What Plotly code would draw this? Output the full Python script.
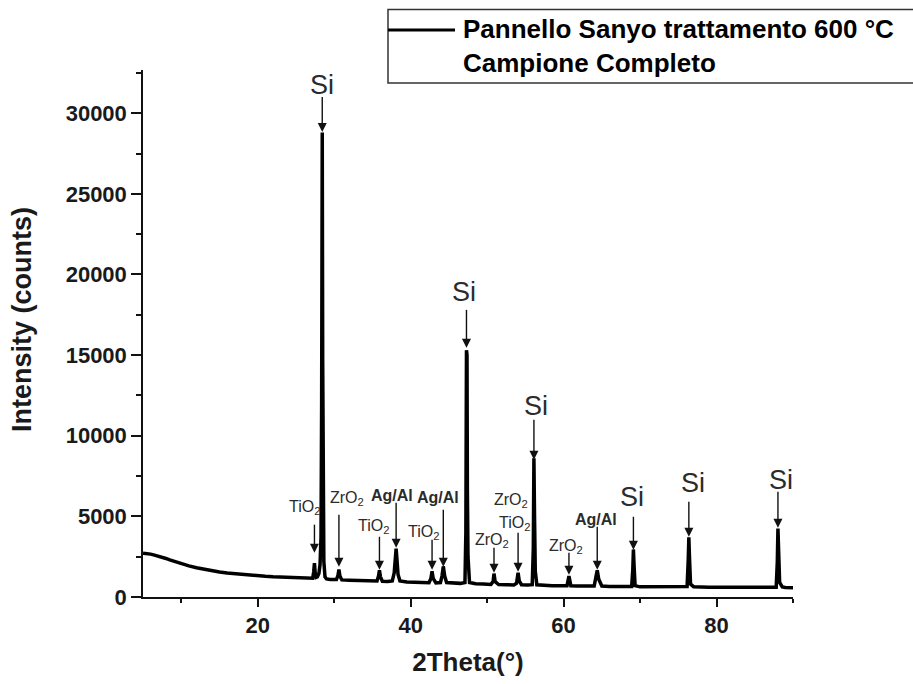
import plotly.graph_objects as go

# ---------------- data ----------------
two_theta = [
    5.0, 5.5, 6.0, 6.5, 7.0, 7.5, 8.0, 8.5, 9.0, 9.5,
    10.0, 11.0, 12.0, 13.0, 14.0, 15.0, 16.0, 17.0, 18.0, 19.0,
    20.0, 21.0, 22.0, 23.0, 24.0, 25.0, 26.0, 26.6, 27.0,
    27.2, 27.32, 27.42, 27.52, 27.65, 27.8, 28.0, 28.15, 28.28, 28.36,
    28.44, 28.5, 28.56, 28.65, 28.8, 29.0, 29.5, 30.0, 30.3, 30.5,
    30.62, 30.75, 31.0, 32.0, 33.0, 34.0, 35.0, 35.6, 35.8, 35.92,
    36.05, 36.3, 37.0, 37.6, 37.85, 38.0, 38.1, 38.2, 38.35, 38.6,
    39.5, 40.5, 41.5, 42.4, 42.65, 42.8, 42.95, 43.3, 43.9, 44.1,
    44.27, 44.45, 44.7, 45.5, 46.5, 47.1, 47.22, 47.3, 47.37, 47.42,
    47.5, 47.7, 48.5, 49.5, 50.5, 50.78, 50.9, 51.05, 51.5, 52.5,
    53.5, 53.85, 54.05, 54.2, 54.5, 55.3, 55.9, 56.04, 56.12, 56.2,
    56.3, 56.5, 57.5, 58.5, 59.5, 60.45, 60.7, 60.95, 61.8, 63.0,
    64.0, 64.25, 64.4, 64.6, 65.0, 66.0, 67.0, 68.0, 68.9, 69.05,
    69.13, 69.22, 69.35, 70.0, 71.0, 72.0, 73.0, 74.0, 75.0, 76.15,
    76.3, 76.38, 76.46, 76.6, 77.0, 78.0, 79.0, 80.0, 81.0, 82.0,
    83.0, 84.0, 85.0, 86.0, 87.0, 87.8, 87.95, 88.03, 88.12, 88.25,
    88.6, 89.0, 90.0,
]
intensity = [
    2720, 2700, 2660, 2600, 2540, 2470, 2390, 2300, 2220, 2140,
    2070, 1930, 1810, 1710, 1620, 1550, 1490, 1440, 1390, 1350,
    1310, 1280, 1250, 1225, 1200, 1180, 1160, 1150, 1140,
    1170, 1550, 2100, 1500, 1220, 1250, 1450, 2000, 3700, 12000,
    28800, 14500, 6000, 2200, 1250, 1120, 1090, 1070, 1080, 1350,
    1700, 1300, 1060, 1040, 1020, 1000, 985, 990, 1300, 1650,
    1250, 980, 960, 1000, 1500, 2300, 3000, 2400, 1400, 1000,
    930, 910, 895, 890, 1150, 1600, 1150, 880, 900, 1300,
    1900, 1300, 900, 860, 845, 900, 4000, 15300, 15000, 6600,
    2500, 900, 820, 800, 780, 950, 1450, 950, 770, 760,
    750, 850, 1500, 1000, 760, 740, 760, 3000, 8600, 5000,
    1600, 760, 710, 700, 690, 700, 1300, 700, 680, 670,
    680, 1300, 1650, 1100, 680, 650, 640, 635, 650, 1700,
    2950, 1900, 700, 630, 625, 620, 615, 610, 608, 650,
    2300, 3700, 2500, 800, 640, 605, 600, 598, 595, 593,
    590, 588, 587, 585, 583, 600, 2200, 4250, 2900, 900,
    620, 590, 580,
]

# peak markers: label text, 2theta, arrow tip intensity
peak_labels = ["Si", "Si", "Si", "Si", "Si", "Si",
               "TiO<sub>2</sub>", "ZrO<sub>2</sub>", "TiO<sub>2</sub>", "<b>Ag/Al</b>",
               "TiO<sub>2</sub>", "<b>Ag/Al</b>", "ZrO<sub>2</sub>", "TiO<sub>2</sub>",
               "ZrO<sub>2</sub>", "<b>Ag/Al</b>"]
peak_pos = [28.44, 47.3, 56.12, 69.13, 76.38, 88.03,
            27.42, 30.62, 35.92, 38.1, 42.8, 44.27, 50.9, 54.05, 60.7, 64.4]
peak_tip = [28840, 15450, 8510, 2930, 3740, 4300,
            2750, 1880, 1690, 3055, 1690, 1880, 1510, 1570, 1380, 1690]
# extra label sharing the arrow at 54.05
extra_label = "ZrO<sub>2</sub>"
extra_label_pos = 54.05

x_ticks = [20, 40, 60, 80]
y_ticks = [0, 5000, 10000, 15000, 20000, 25000, 30000]
y_max = 32680

# ---------------- layout / style (pixels) ----------------
W, H = 913, 684
PL, PR, PT, PB = 143, 793, 70, 597
FONT = "Liberation Sans, Arial, sans-serif"
INK = "#111111"
LABEL_INK = "#2b2b2b"

# arrow length (px) and label offset (dx, up) relative to arrow tail
arrow_len = [35, 38, 40, 33, 35, 36,
             28, 52, 33, 45, 30, 57, 25, 39, 22, 43]
label_dx = [0, -2, 2, -1, 4, 3,
            -10, 8, -6, -4, -9, -5, -2, -4, -3, -1]
label_up = [12, 18, 14, 20, 19, 12,
            17, 16, 10, 7, 7, 12, 7, 9, 6, 7]
extra_dx, extra_up = -7, 32

counts_per_px = y_max / (PB - PT)


def px_x(px):
    return (px - PL) / (PR - PL)


def px_y(py):
    return (PB - py) / (PB - PT)


fig = go.Figure()
fig.add_trace(go.Scatter(
    x=two_theta, y=intensity, mode="lines",
    name="Pannello Sanyo trattamento 600 °C Campione Completo",
    line=dict(color="black", width=3.5),
    showlegend=False, hoverinfo="x+y",
))

# arrow shafts (from tail down to tip) and arrow heads
shaft_x, shaft_y = [], []
for xv, tip, ln in zip(peak_pos, peak_tip, arrow_len):
    shaft_x += [xv, xv, None]
    shaft_y += [tip + 5 * counts_per_px, tip + ln * counts_per_px, None]
fig.add_trace(go.Scatter(
    x=shaft_x, y=shaft_y, mode="lines", line=dict(color=INK, width=1.4),
    showlegend=False, hoverinfo="skip",
))
fig.add_trace(go.Scatter(
    x=peak_pos, y=peak_tip, mode="markers",
    marker=dict(symbol="arrow-down", size=9, color=INK, line=dict(width=0)),
    showlegend=False, hoverinfo="skip",
))

annotations = []
for i, (lab, xv, tip) in enumerate(zip(peak_labels, peak_pos, peak_tip)):
    is_si = lab == "Si"
    annotations.append(dict(
        x=xv, y=tip, xref="x", yref="y", text=lab, showarrow=False,
        xanchor="center", yanchor="middle",
        xshift=label_dx[i], yshift=arrow_len[i] + label_up[i],
        font=dict(family=FONT, size=27 if is_si else 16, color=LABEL_INK),
    ))
    if abs(xv - extra_label_pos) < 1e-6:
        annotations.append(dict(
            x=xv, y=tip, xref="x", yref="y", text=extra_label, showarrow=False,
            xanchor="center", yanchor="middle",
            xshift=extra_dx, yshift=arrow_len[i] + extra_up,
            font=dict(family=FONT, size=16, color=LABEL_INK),
        ))

# y-axis title (placed as in the reference, slightly above plot centre)
annotations.append(dict(
    x=px_x(22), y=px_y(320), xref="paper", yref="paper",
    text="Intensity (counts)", textangle=-90, showarrow=False,
    xanchor="center", yanchor="middle",
    font=dict(family=FONT, size=27, color="#1a1a1a", weight="bold"),
))

# custom legend
annotations.append(dict(
    x=px_x(461), y=px_y(46), xref="paper", yref="paper",
    text="Pannello Sanyo trattamento 600 °C<br>Campione Completo",
    showarrow=False, xanchor="left", yanchor="middle", align="left",
    font=dict(family=FONT, size=26, color="black", weight="bold"),
))
shapes = [
    dict(type="rect", xref="paper", yref="paper",
         x0=px_x(388), x1=px_x(1000), y0=px_y(83), y1=px_y(9.5),
         line=dict(color="#333333", width=1.5), fillcolor="rgba(0,0,0,0)"),
    dict(type="line", xref="paper", yref="paper",
         x0=px_x(388), x1=px_x(455), y0=px_y(30), y1=px_y(30),
         line=dict(color="black", width=3)),
]

axis_common = dict(
    showgrid=False, zeroline=False, showline=True, linecolor=INK, linewidth=1.5,
    ticks="outside", tickcolor=INK, tickwidth=1.5,
    tickfont=dict(family=FONT, size=22, color="#1a1a1a", weight="bold"),
)

fig.update_layout(
    width=W, height=H,
    margin=dict(l=PL, r=W - PR, t=PT, b=H - PB, autoexpand=False),
    plot_bgcolor="white", paper_bgcolor="white",
    showlegend=False,
    annotations=annotations, shapes=shapes,
    xaxis=dict(
        range=[5, 90], tickvals=x_ticks, ticklen=8,
        minor=dict(dtick=10, tick0=0, ticklen=4, ticks="outside", tickcolor=INK, tickwidth=1.5),
        title=dict(text="2Theta(°)", standoff=16,
                   font=dict(family=FONT, size=26, color="#1a1a1a", weight="bold")),
        **axis_common,
    ),
    yaxis=dict(
        range=[0, y_max], tickvals=y_ticks, ticklen=10, tickformat="d",
        minor=dict(dtick=2500, tick0=0, ticklen=5, ticks="outside", tickcolor=INK, tickwidth=1.5),
        **axis_common,
    ),
)

fig.write_html("out.html")
